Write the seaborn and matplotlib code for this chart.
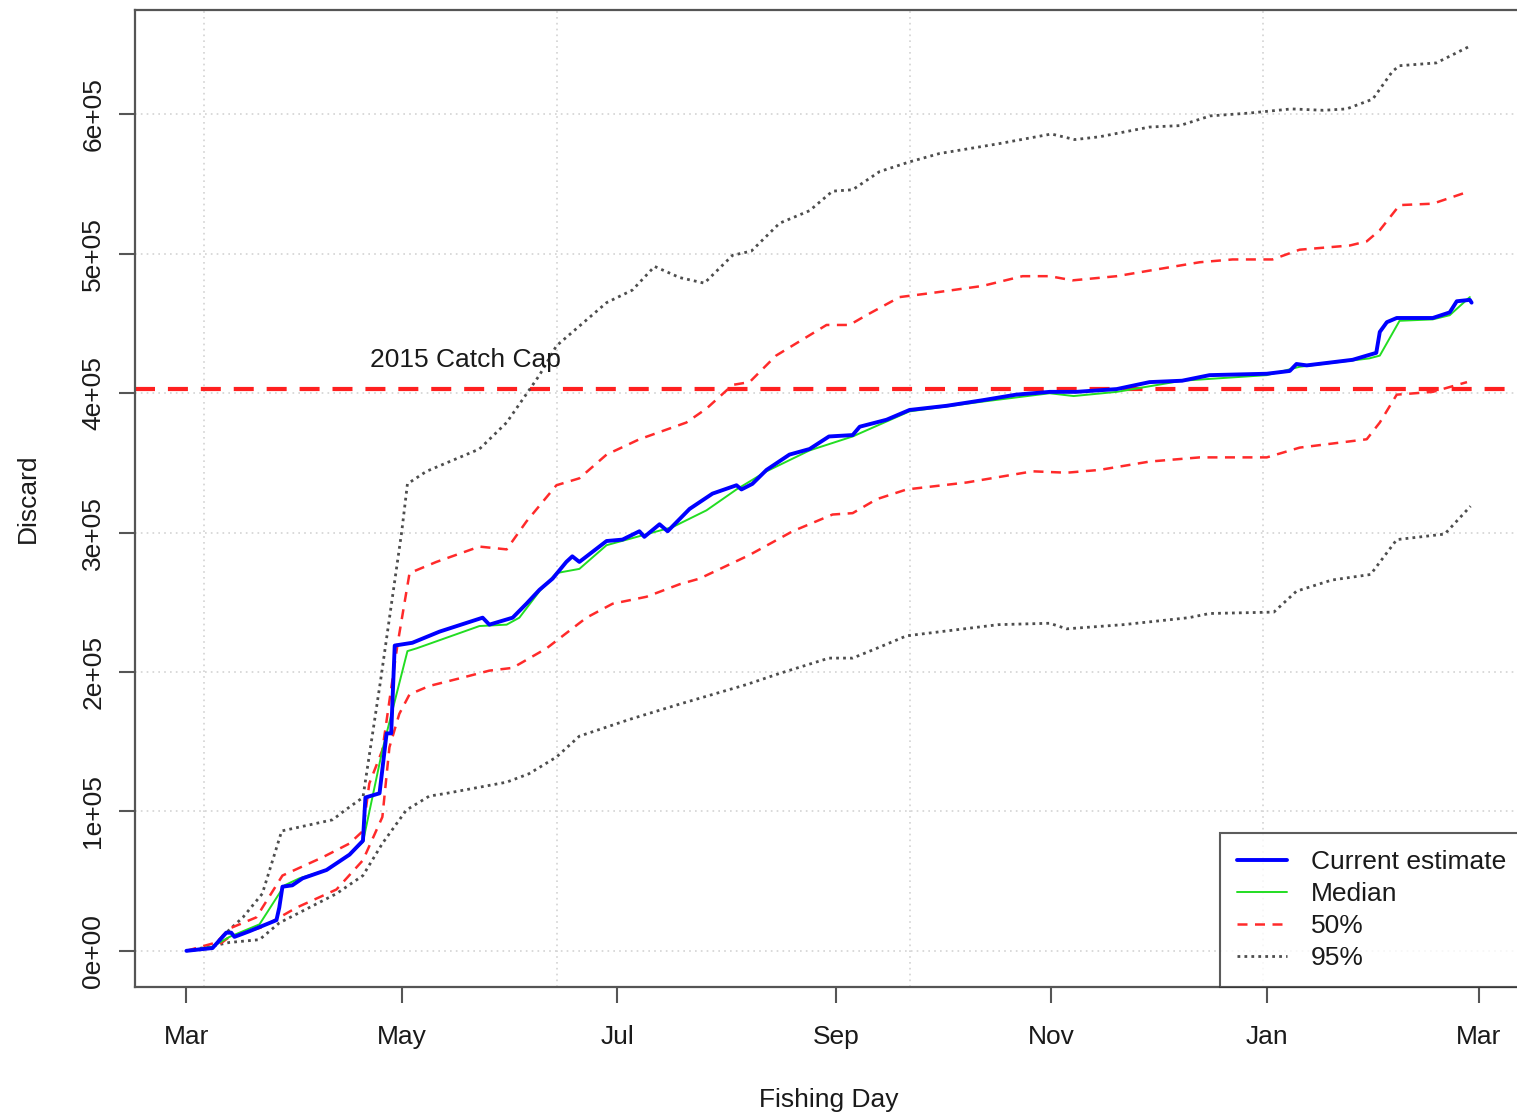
import pandas as pd
import numpy as np
import matplotlib
matplotlib.use('Agg')
import matplotlib.pyplot as plt
import matplotlib.dates as mdates
import seaborn as sns

# ============================
# DATA  (day = days since 1 Mar 2015, values = cumulative discard)
# ============================

start_date = pd.Timestamp('2015-03-01')

current_days = [0, 7.4, 11.3, 12.7, 13.6, 17.8, 25.5, 26.3, 27.2, 30,
                32.9, 39.7, 46.2, 50, 50.7, 54.7, 56.7, 58, 59, 64,
                71.7, 83.9, 85.8, 92.4, 96.3, 100, 103.7, 107.6, 109.3, 111.3,
                119, 123.5, 128.3, 129.7, 134, 136.3, 142.5, 149, 155.8, 157.2,
                160.3, 164.3, 170.8, 176.5, 182, 188.7, 190.7, 198.3, 204.8, 215.3,
                225.5, 235, 244.5, 252, 263.5, 272.8, 282, 289.8, 306, 312.5,
                314.4, 317.3, 330.3, 334.3, 337, 338, 340, 342.8, 353, 357.8,
                359.8, 363.5, 364]
current_vals = [0, 2000, 13000, 13000, 10000, 14000, 22000, 31000, 46000, 47000,
                52000, 58000, 69000, 79000, 110000, 113000, 156000, 156000, 219000, 221000,
                229000, 239000, 234000, 239000, 249000, 259000, 267000, 279000, 283000, 279000,
                294000, 295000, 301000, 297000, 306000, 301000, 317000, 328000, 334000, 331000,
                335000, 345000, 356000, 360000, 369000, 370000, 376000, 381000, 388000, 391000,
                395000, 399000, 401000, 401000, 403000, 408000, 409000, 413000, 414000, 416000,
                421000, 420000, 424000, 427000, 429000, 444000, 451000, 454000, 454000, 458000,
                466000, 467000, 465000]

median_days = [0, 7.4, 12.2, 20.7, 27.8, 32, 39.7, 46.2, 50, 55.5,
               62.6, 65.2, 83, 90.7, 94.3, 100, 104.8, 111.3, 119, 137.7,
               147.3, 155.8, 164.3, 176.5, 188.7, 204.8, 225.5, 244.5, 251.3, 263.5,
               282, 306, 315.3, 335, 338, 343.6, 353, 357.8, 363.5]
median_vals = [0, 3000, 10000, 19000, 47000, 52000, 58000, 69000, 78000, 144000,
               215000, 217000, 233000, 234000, 239000, 258000, 271000, 274000, 291000, 304000,
               316000, 331000, 344000, 359000, 369000, 387000, 394000, 400000, 398000, 401000,
               409000, 413000, 419000, 425000, 427000, 452000, 453000, 456000, 469000]

up50_days = [0, 8.5, 12.2, 19.8, 27.2, 38.5, 46.2, 50, 51.8, 55.5,
             59.8, 63.2, 70.8, 83, 90.7, 96.3, 104.8, 111.3, 119, 128.3,
             141.6, 147.3, 154.7, 159.5, 167, 181.3, 187.8, 192.6, 202, 211.3,
             225.5, 236.8, 244.5, 251, 263.5, 272.8, 287, 296.3, 307.6, 315.3,
             329.5, 334.3, 338, 343.6, 353, 363.5]
up50_vals = [0, 6000, 16000, 24000, 54000, 67000, 77000, 86000, 120000, 144000,
             220000, 271000, 279000, 290000, 288000, 308000, 334000, 339000, 356000, 367000,
             379000, 389000, 406000, 408000, 427000, 449000, 449000, 456000, 469000, 472000,
             477000, 484000, 484000, 481000, 484000, 488000, 494000, 496000, 496000, 503000,
             506000, 509000, 517000, 535000, 536000, 545000]

lo50_days = [0, 8.5, 12.2, 21.5, 31.2, 42.5, 50, 55.5, 57.5, 60.3,
             63.2, 68.8, 78.2, 85.8, 92.4, 102, 113.3, 120.7, 130.3, 139.7,
             145.3, 159.5, 171.7, 183, 188.7, 195.5, 204, 221, 239.7, 249.3,
             258.6, 272.8, 287, 306, 315.3, 334.3, 338, 342.8, 353, 362.7]
lo50_vals = [0, 3000, 10000, 17000, 31000, 44000, 65000, 96000, 146000, 170000,
             184000, 190000, 196000, 201000, 203000, 217000, 239000, 249000, 254000, 263000,
             267000, 284000, 301000, 313000, 314000, 324000, 331000, 336000, 344000, 343000,
             345000, 351000, 354000, 354000, 361000, 367000, 379000, 399000, 401000, 408000]

up95_days = [0, 7.4, 10, 16, 21.5, 27, 41.4, 45, 50, 55,
             61, 62.6, 68, 83, 90.7, 100, 104.8, 119, 126.3, 132.6,
             139.7, 146.7, 154.7, 160, 168, 176.5, 183, 188.7, 196.3, 204.8,
             213.3, 230, 245, 251.6, 258.6, 272.8, 281.3, 290, 301, 313,
             322, 328.6, 336, 341.6, 343.6, 354, 363.5]
up95_vals = [0, 2000, 10000, 24000, 41000, 86000, 94000, 101000, 110000, 194000,
             301000, 335000, 344000, 360000, 379000, 413000, 434000, 465000, 474000, 491000,
             483000, 479000, 499000, 502000, 522000, 531000, 545000, 546000, 559000, 566000,
             572000, 579000, 586000, 582000, 584000, 591000, 592000, 599000, 601000, 604000,
             603000, 604000, 611000, 631000, 635000, 637000, 649000]

lo95_days = [0, 6.5, 12.2, 20.7, 26.3, 42.5, 50, 55.5, 62.3, 68.8,
             73.7, 90.7, 97, 104.8, 111.3, 125.5, 139.7, 158.6, 168, 182,
             188.7, 195.5, 204, 230, 244.5, 249.3, 265.4, 283.9, 289.8, 308,
             314.4, 324.4, 335.4, 342.8, 356.4, 363.7]
lo95_vals = [0, 3000, 6000, 8000, 20000, 41000, 54000, 77000, 101000, 111000,
             113000, 121000, 127000, 139000, 154000, 166000, 177000, 191000, 199000, 210000,
             210000, 217000, 226000, 234000, 235000, 231000, 234000, 239000, 242000, 243000,
             258000, 266000, 270000, 295000, 299000, 319000]

catch_cap = 403000
cap_label = '2015 Catch Cap'
cap_label_day = 79
cap_label_val = 424000

ytick_vals = [0, 100000, 200000, 300000, 400000, 500000, 600000]
ytick_labels = ['0e+00', '1e+05', '2e+05', '3e+05', '4e+05', '5e+05', '6e+05']
grid_epoch_days = [16500, 16600, 16700, 16800]  # R grid() positions (days since 1970)

legend_labels = ['Current estimate', 'Median', '50%', '95%']


def to_frame(days, vals):
    return pd.DataFrame({
        'date': start_date + pd.to_timedelta(days, unit='D'),
        'discard': vals
    })


current = to_frame(current_days, current_vals)
median = to_frame(median_days, median_vals)
up50 = to_frame(up50_days, up50_vals)
lo50 = to_frame(lo50_days, lo50_vals)
up95 = to_frame(up95_days, up95_vals)
lo95 = to_frame(lo95_days, lo95_vals)

# ============================
# STYLE
# ============================

sns.set_style('white')
plt.rcParams['font.family'] = ['Liberation Sans', 'DejaVu Sans']
text_col = '#1a1a1a'
axis_col = '#555555'
fs = 19

fig = plt.figure(figsize=(15.17, 11.15), dpi=100)
ax = fig.add_axes([135 / 1517, 128 / 1115, 1388 / 1517, 977 / 1115])

# grid (R style: lightgray dotted)
for v in ytick_vals:
    ax.axhline(v, color='#d3d3d3', lw=1.2, linestyle=(0, (1, 2.5)), zorder=0)
for d in pd.to_datetime(grid_epoch_days, unit='D'):
    ax.axvline(d, color='#d3d3d3', lw=1.2, linestyle=(0, (1, 2.5)), zorder=0)

# ============================
# LINES
# ============================

dot_style = dict(color='#4d4d4d', lw=2, linestyle=(0, (1, 1.5)))
dash_style = dict(color='#ff2a2a', lw=1.8, linestyle=(0, (4, 3)))

sns.lineplot(data=up95, x='date', y='discard', ax=ax, label='95%', **dot_style)
sns.lineplot(data=lo95, x='date', y='discard', ax=ax, **dot_style)
sns.lineplot(data=up50, x='date', y='discard', ax=ax, label='50%', **dash_style)
sns.lineplot(data=lo50, x='date', y='discard', ax=ax, **dash_style)
sns.lineplot(data=median, x='date', y='discard', ax=ax, label='Median',
             color='#22dd22', lw=1.4)
sns.lineplot(data=current, x='date', y='discard', ax=ax, label='Current estimate',
             color='#0000ff', lw=2.8)

ax.axhline(catch_cap, color='#ff2020', lw=3, linestyle=(0, (4.8, 3.1)), zorder=1)
ax.text(start_date + pd.Timedelta(days=cap_label_day), cap_label_val, cap_label,
        ha='center', va='center', fontsize=fs, color=text_col)

# ============================
# AXES
# ============================

pad = 0.04 * max(current_days)
ax.set_xlim(start_date - pd.Timedelta(days=pad),
            start_date + pd.Timedelta(days=max(current_days) + pad))
ypad = 0.04 * max(up95_vals)
ax.set_ylim(-ypad, max(up95_vals) + ypad)

ax.xaxis.set_major_locator(mdates.MonthLocator(bymonth=[1, 3, 5, 7, 9, 11]))
ax.xaxis.set_major_formatter(mdates.DateFormatter('%b'))
ax.set_yticks(ytick_vals)
ax.set_yticklabels(ytick_labels, rotation=90, va='center')

ax.tick_params(axis='both', length=11.5, width=1.5, color=axis_col,
               labelsize=fs, labelcolor=text_col, left=True, bottom=True)
ax.tick_params(axis='x', pad=16)
ax.tick_params(axis='y', pad=10)

for s in ax.spines.values():
    s.set_color(axis_col)
    s.set_linewidth(1.6)

ax.set_xlabel('Fishing Day', fontsize=fs, color=text_col, labelpad=28)
ax.set_ylabel('Discard', fontsize=fs, color=text_col, labelpad=30)

# ============================
# LEGEND
# ============================

handles, labels = ax.get_legend_handles_labels()
order = [labels.index(l) for l in legend_labels]
leg = ax.legend([handles[i] for i in order], legend_labels,
                loc='lower right', bbox_to_anchor=(1, 0), borderaxespad=0,
                frameon=True, fancybox=False, edgecolor='#333333',
                fontsize=fs, handlelength=1.9, handletextpad=0.9,
                labelspacing=0.3, borderpad=0.65)
leg.get_frame().set_linewidth(1.5)
for t in leg.get_texts():
    t.set_color(text_col)

fig.savefig('out.png', dpi=100)
